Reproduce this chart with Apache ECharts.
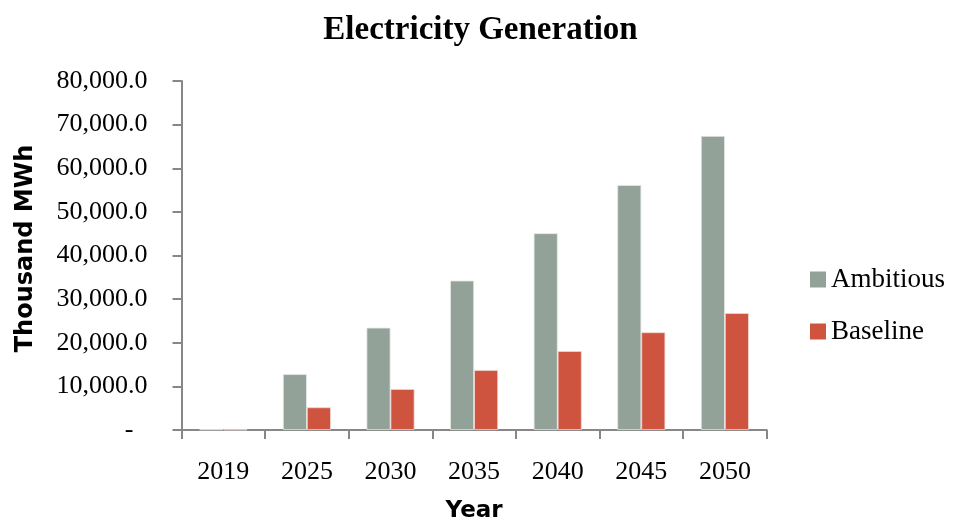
<!DOCTYPE html>
<html>
<head>
<meta charset="utf-8">
<script src="https://cdn.jsdelivr.net/npm/echarts@6/dist/echarts.min.js"></script>
<style>
  html, body { margin: 0; padding: 0; background: #fff; }
  #chart { width: 961px; height: 521px; }
</style>
</head>
<body>
<div id="chart"></div>
<script>
// Electricity generation by scenario, thousand MWh
const years = ['2019', '2025', '2030', '2035', '2040', '2045', '2050'];
const ambitious = [150, 12800, 23450, 34250, 45100, 56150, 67400];
const baseline = [100, 5200, 9400, 13750, 18100, 22400, 26800];
const seriesNames = ['Ambitious', 'Baseline'];

const serif = "'Liberation Serif', 'Times New Roman', serif";
const sans = "'DejaVu Sans', 'Open Sans', sans-serif";
const axisGrey = '#878787';

function fmtValue(v) {
  if (v === 0) return '{z|-}';
  return v.toLocaleString('en-US', { minimumFractionDigits: 1, maximumFractionDigits: 1 });
}

const chart = echarts.init(document.getElementById('chart'));
chart.setOption({
  backgroundColor: '#ffffff',
  animation: false,
  title: {
    text: 'Electricity Generation',
    left: 'center',
    top: 9,
    textStyle: { fontFamily: serif, fontWeight: 'bold', fontSize: 33, color: '#000' }
  },
  legend: {
    orient: 'vertical',
    left: 805,
    top: 261,
    itemWidth: 16,
    itemHeight: 16,
    itemGap: 25,
    icon: 'rect',
    data: seriesNames,
    itemStyle: { borderWidth: 0 },
    textStyle: { fontFamily: serif, fontSize: 27, color: '#000', lineHeight: 26 }
  },
  grid: { left: 181.5, right: 194.3, top: 81, bottom: 91, containLabel: false, outerBoundsMode: 'none' },
  xAxis: {
    type: 'category',
    data: years,
    name: 'Year',
    nameLocation: 'middle',
    nameGap: 70,
    nameTextStyle: { fontFamily: sans, fontWeight: 'bold', fontSize: 23, color: '#000' },
    axisLine: { lineStyle: { color: axisGrey, width: 2 } },
    axisTick: { show: true, length: 9, lineStyle: { color: axisGrey, width: 2 } },
    axisLabel: { margin: 29, fontFamily: serif, fontSize: 26, color: '#000' }
  },
  yAxis: {
    type: 'value',
    min: 0,
    max: 80000,
    interval: 10000,
    name: 'Thousand MWh',
    nameLocation: 'middle',
    nameRotate: 90,
    nameGap: 144,
    nameTextStyle: { fontFamily: sans, fontWeight: 'bold', fontSize: 24, color: '#000', padding: [0, 0, 0, 14] },
    splitLine: { show: false },
    axisLine: { show: true, lineStyle: { color: axisGrey, width: 2 } },
    axisTick: { show: true, length: 9, lineStyle: { color: axisGrey, width: 2 } },
    axisLabel: {
      margin: 34,
      fontFamily: serif,
      fontSize: 26,
      color: '#000',
      formatter: fmtValue,
      rich: { z: { fontFamily: serif, fontSize: 26, color: '#000', padding: [0, 14, 0, 0] } }
    }
  },
  series: [
    {
      name: seriesNames[0],
      type: 'bar',
      data: ambitious,
      barWidth: 24,
      barGap: '0%',
      itemStyle: { color: '#93A299', borderColor: '#e4e8e5', borderWidth: 0.8 }
    },
    {
      name: seriesNames[1],
      type: 'bar',
      data: baseline,
      barWidth: 24,
      barGap: '0%',
      itemStyle: { color: '#CF543F', borderColor: '#f0d8d3', borderWidth: 0.8 }
    }
  ]
});
</script>
</body>
</html>
